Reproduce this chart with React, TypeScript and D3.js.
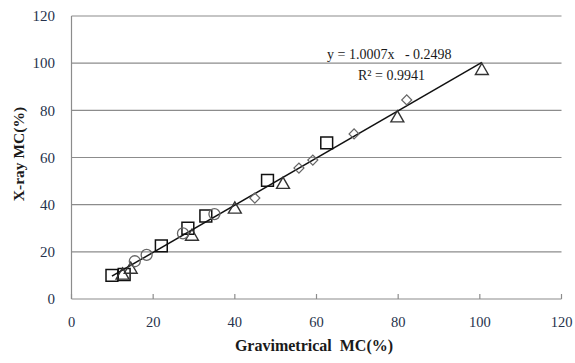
import React from "react";
import * as d3 from "d3";

const xTicks = [0, 20, 40, 60, 80, 100, 120];
const yTicks = [0, 20, 40, 60, 80, 100, 120];

const squareX = [9.9, 12.9, 22.0, 28.5, 32.9, 48.0, 62.5];
const squareY = [10.0, 10.4, 22.5, 30.0, 35.2, 50.3, 66.2];

const triangleX = [12.5, 14.5, 29.5, 40.0, 51.8, 79.8, 100.5];
const triangleY = [10.0, 12.5, 26.5, 38.0, 48.5, 76.7, 96.8];

const circleX = [15.5, 18.4, 27.3, 35.0];
const circleY = [16.0, 18.7, 27.8, 36.0];

const diamondX = [44.9, 55.7, 59.1, 69.2, 82.1];
const diamondY = [42.8, 55.5, 58.9, 70.0, 84.4];

const slope = 1.0007;
const intercept = -0.2498;
const eqText = "y = 1.0007x   - 0.2498";
const r2Text = "R² = 0.9941";

const W = 575;
const H = 363;

export default function App() {
  const x = d3.scaleLinear().domain([0, 120]).range([71.5, 561.5]);
  const y = d3.scaleLinear().domain([0, 120]).range([299, 16]);

  const allX = [...squareX, ...triangleX, ...circleX, ...diamondX];
  const x0 = d3.min(allX) as number;
  const x1 = d3.max(allX) as number;
  const lineGen = d3
    .line<number>()
    .x((d) => x(d))
    .y((d) => y(slope * d + intercept));

  const sq = d3.symbol().type(d3.symbolSquare).size(140)()!;
  const tri = d3.symbol().type(d3.symbolTriangle).size(72)()!;
  const circ = d3.symbol().type(d3.symbolCircle).size(95)()!;
  const dia = d3.symbol().type(d3.symbolSquare).size(50)()!;

  const tickColor = "#26324c";
  const gridColor = "#8c8c8c";

  return (
    <svg
      width={W}
      height={H}
      style={{ position: "absolute", left: 0, top: 0, background: "#fff" }}
      fontFamily="'Liberation Serif', 'Times New Roman', serif"
    >
      {yTicks.slice(1).map((t) => (
        <line key={"g" + t} x1={x(0)} x2={x(120)} y1={y(t)} y2={y(t)} stroke={gridColor} strokeWidth={1.2} />
      ))}
      <line x1={x(0)} x2={x(0)} y1={y(0)} y2={y(120)} stroke={gridColor} strokeWidth={1.2} />
      <line x1={x(0)} x2={x(120)} y1={y(0)} y2={y(0)} stroke={gridColor} strokeWidth={1.2} />
      {xTicks.map((t) => (
        <line key={"xt" + t} x1={x(t)} x2={x(t)} y1={y(0)} y2={y(0) - 5} stroke={gridColor} strokeWidth={1.2} />
      ))}
      {yTicks.map((t) => (
        <text key={"yl" + t} x={55} y={y(t)} dy="0.35em" textAnchor="end" fontSize={15} fill={tickColor}>
          {t}
        </text>
      ))}
      {xTicks.map((t) => (
        <text key={"xl" + t} x={x(t)} y={322} dy="0.35em" textAnchor="middle" fontSize={14.5} fill={tickColor}>
          {t}
        </text>
      ))}
      <text x={314} y={351} textAnchor="middle" fontSize={16} fontWeight="bold" fill="#1a1a1a" style={{ whiteSpace: "pre" }}>
        {"Gravimetrical  MC(%)"}
      </text>
      <text
        transform={`translate(24,154) rotate(-90)`}
        textAnchor="middle"
        fontSize={15.5}
        fontWeight="bold"
        fill="#1a1a1a"
      >
        X-ray MC(%)
      </text>

      <path d={lineGen([x0, x1]) || ""} stroke="#111" strokeWidth={1.5} fill="none" />

      {squareX.map((v, i) => (
        <path key={"s" + i} d={sq} transform={`translate(${x(v)},${y(squareY[i])})`} fill="none" stroke="#111" strokeWidth={1.5} />
      ))}
      {triangleX.map((v, i) => (
        <path key={"t" + i} d={tri} transform={`translate(${x(v)},${y(triangleY[i])})`} fill="none" stroke="#333" strokeWidth={1.4} />
      ))}
      {circleX.map((v, i) => (
        <path key={"c" + i} d={circ} transform={`translate(${x(v)},${y(circleY[i])})`} fill="none" stroke="#666" strokeWidth={1.3} />
      ))}
      {diamondX.map((v, i) => (
        <path key={"d" + i} d={dia} transform={`translate(${x(v)},${y(diamondY[i])}) rotate(45)`} fill="none" stroke="#666" strokeWidth={1.2} />
      ))}

      <text x={327} y={59} fontSize={14} fill="#1a1a1a" style={{ whiteSpace: "pre" }}>
        {eqText}
      </text>
      <text x={358} y={80} fontSize={14} fill="#1a1a1a">
        {r2Text}
      </text>
    </svg>
  );
}
